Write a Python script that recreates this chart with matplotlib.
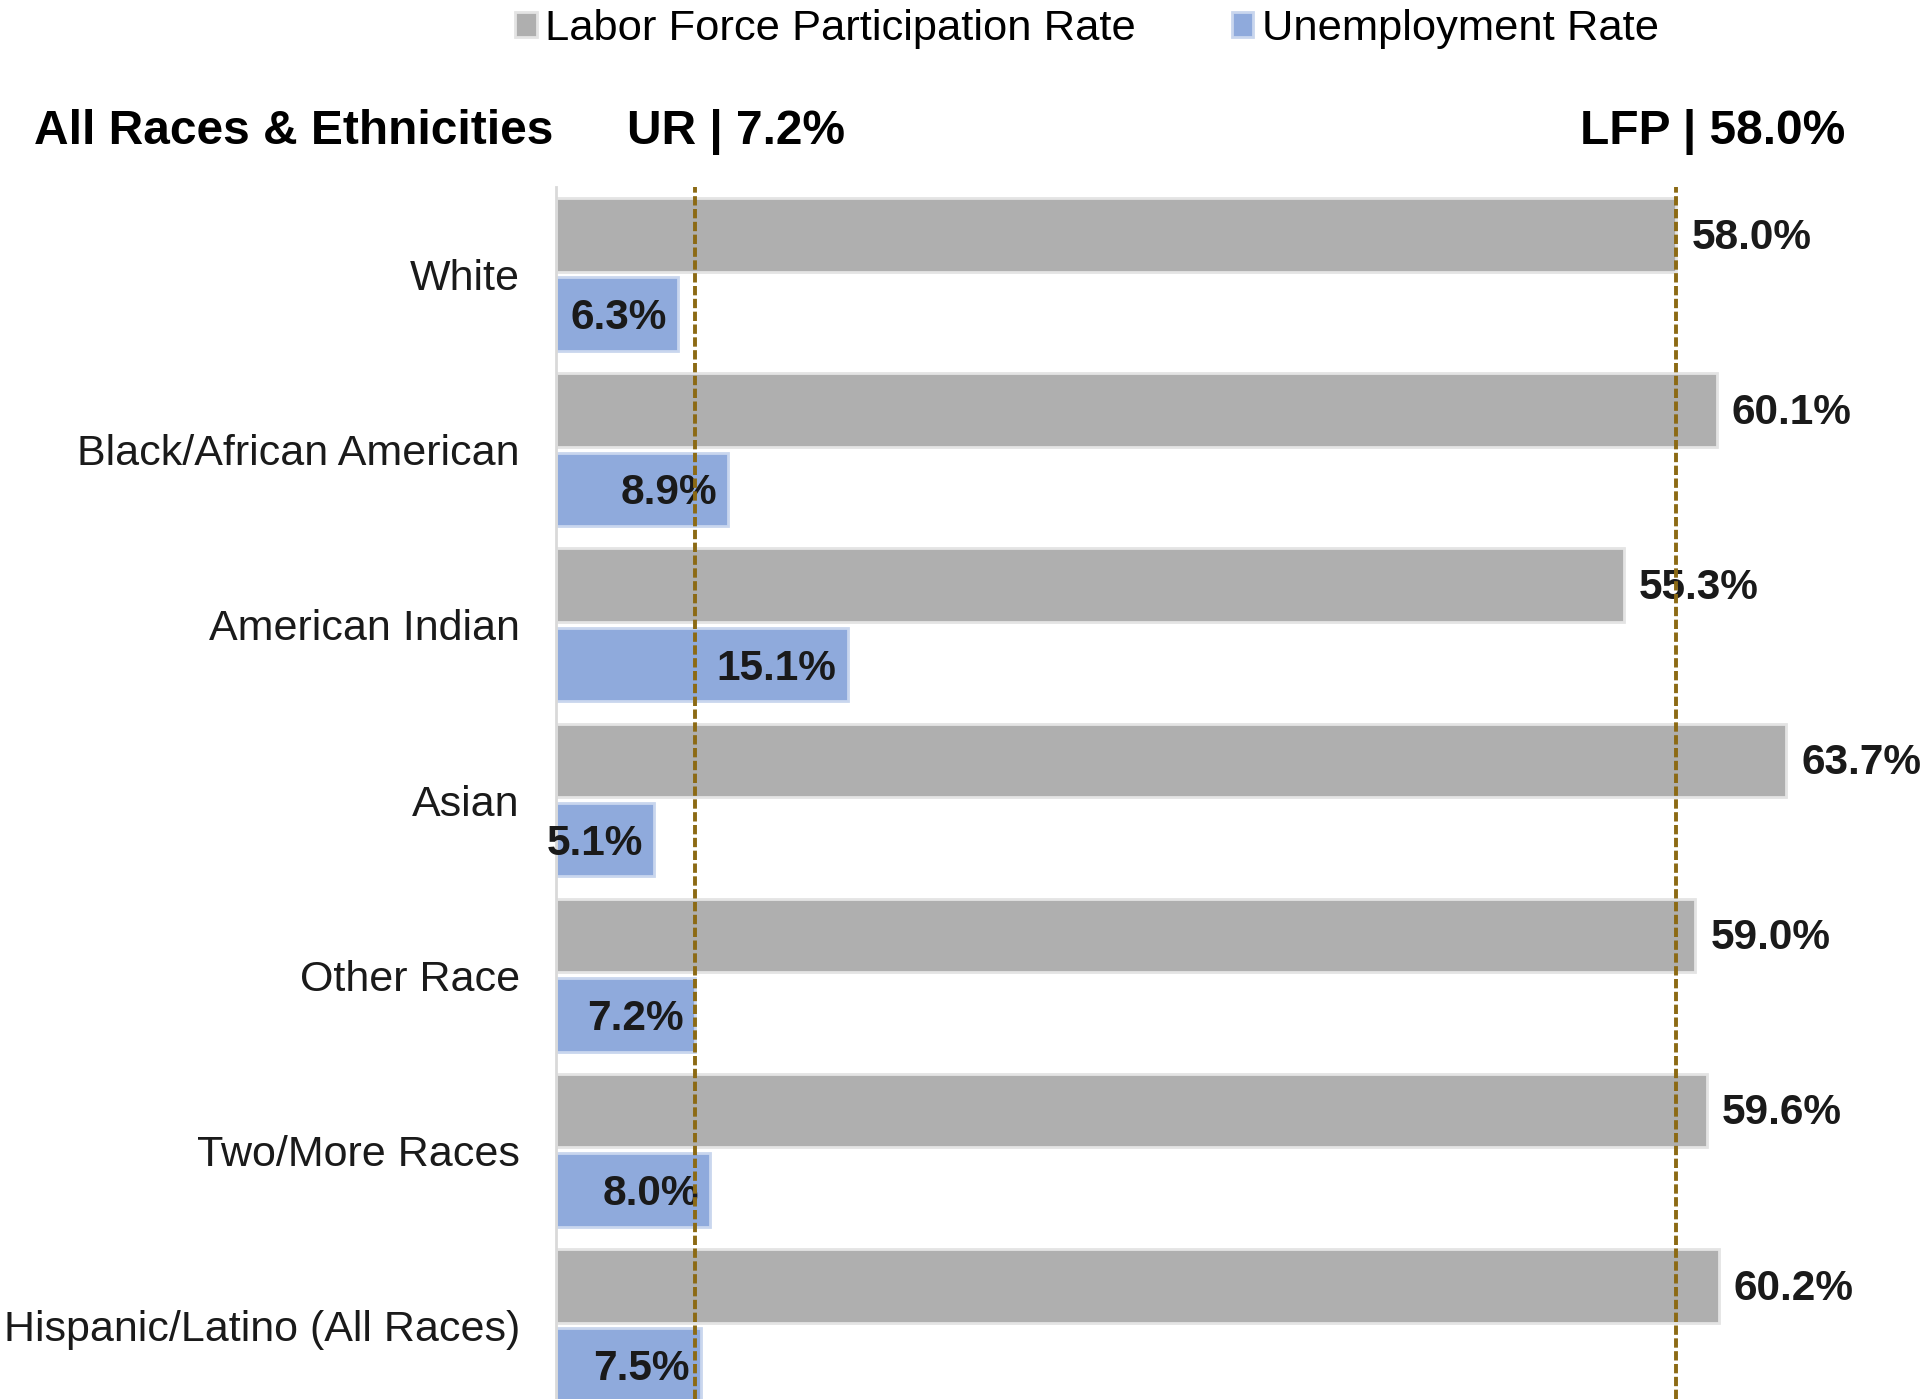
import matplotlib
matplotlib.use("Agg")
import matplotlib.pyplot as plt
import numpy as np

plt.rcParams['font.family'] = ['Liberation Sans', 'DejaVu Sans']

# data
groups = ['White', 'Black/African American', 'American Indian', 'Asian',
          'Other Race', 'Two/More Races', 'Hispanic/Latino (All Races)']
lfp = [58.0, 60.1, 55.3, 63.7, 59.0, 59.6, 60.2]
ur = [6.3, 8.9, 15.1, 5.1, 7.2, 8.0, 7.5]
lfp_all = 58.0
ur_all = 7.2

gray = '#AFAFAF'
blue = '#8FAADC'
ref_color = '#8C6A14'

fig = plt.figure(figsize=(19.29, 13.99), dpi=100)
ax = fig.add_axes([556 / 1929, 0, 1 - 556 / 1929, 1 - 187 / 1399])

y = np.arange(len(groups))
off = 0.226
h = 0.42
b1 = ax.barh(y - off, lfp, height=h, color=gray, edgecolor='#E4E4E4', linewidth=2,
             label='Labor Force Participation Rate')
b2 = ax.barh(y + off, ur, height=h, color=blue, edgecolor='#C9D6EE', linewidth=2,
             label='Unemployment Rate')

for yi, v in zip(y, lfp):
    ax.annotate(f'{v:.1f}%', (v, yi - off), xytext=(11, -2), textcoords='offset points',
                ha='left', va='center', fontsize=30.5, fontweight='bold', color='#1a1a1a')
for yi, v in zip(y, ur):
    ax.annotate(f'{v:.1f}%', (v, yi + off), xytext=(-8, -3), textcoords='offset points',
                ha='right', va='center', fontsize=30.5, fontweight='bold', color='#1a1a1a')

# reference lines for all races & ethnicities
ax.axvline(ur_all, color=ref_color, linewidth=2.8, linestyle=(0, (2.4, 0.9)), zorder=3)
ax.axvline(lfp_all, color=ref_color, linewidth=2.8, linestyle=(0, (2.4, 0.9)), zorder=3)

ax.set_xlim(0, 71.1)
ax.set_ylim(6.42, -0.5)
ax.set_yticks(y)
ax.set_yticklabels(groups, fontsize=31, color='#1a1a1a')
ax.tick_params(axis='y', length=0, pad=26)
ax.set_xticks([])
for s in ['top', 'right', 'bottom']:
    ax.spines[s].set_visible(False)
ax.spines['left'].set_color('#D9D9D9')
ax.spines['left'].set_linewidth(2)

hy = 1 - 132 / 1399
fig.text(34 / 1929, hy, 'All Races & Ethnicities', fontsize=34.5,
         fontweight='bold', ha='left', va='center')
fig.text(627 / 1929, hy, f'UR | {ur_all:.1f}%', fontsize=34.5,
         fontweight='bold', ha='left', va='center')
fig.text(1845 / 1929, hy, f'LFP | {lfp_all:.1f}%', fontsize=34.5,
         fontweight='bold', ha='right', va='center')

fig.legend(handles=[b1, b2], loc='center', bbox_to_anchor=(1087 / 1929, 1 - 29 / 1399),
           ncol=2, frameon=False, fontsize=31.3, handlelength=0.5, handleheight=0.5,
           handletextpad=0.2, columnspacing=2.2)

fig.savefig('out.png', dpi=100)
